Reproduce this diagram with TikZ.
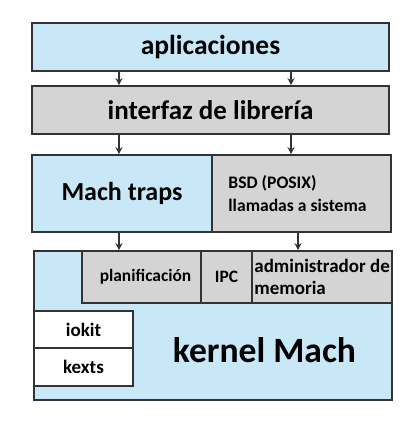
\documentclass[tikz,border=0pt]{standalone}
\usepackage{fontspec}
\setmainfont{Carlito}
\usetikzlibrary{arrows.meta}
\definecolor{azul}{HTML}{C8E8F8}
\definecolor{gris}{HTML}{D4D4D4}
\definecolor{borde}{HTML}{333333}
\newcommand{\fs}[2]{\fontsize{#1}{#2}\selectfont\bfseries}
\tikzset{caja/.style={draw=borde,line width=1.6pt,inner sep=0pt,align=center},
  texto/.style={inner sep=0pt,align=left,anchor=west},
  flecha/.style={draw=borde,line width=1.3pt,-{Stealth[length=7pt,width=7pt]}}}

\begin{document}
\begin{tikzpicture}[x=1pt,y=-1pt]
\useasboundingbox (0,0) rectangle (415,423);
\node[caja,fill=azul,minimum width=357,minimum height=48,font=\fs{27.5}{30}] (apps) at (210.5,47) {aplicaciones};
\node[caja,fill=gris,minimum width=357,minimum height=48,font=\fs{27}{30}] (lib) at (210.5,110) {interfaz de librería};
\node[caja,fill=azul,minimum width=180,minimum height=77,font=\fs{26}{30}] (mach) at (122,193.5) {Mach traps};
\node[caja,fill=gris,minimum width=179,minimum height=77] (bsd) at (301.5,193.5) {};
\node[texto,font=\fs{17.6}{23}] (bsdtxt) at ([xshift=17pt]bsd.west) {BSD (POSIX)\\llamadas a sistema};
\node[caja,fill=azul,minimum width=358,minimum height=149] (kern) at (213,325.5) {};
\node[caja,fill=gris,minimum width=119,minimum height=52,font=\fs{17.4}{20}] (plan) at (141.5,277) {\hspace*{8pt}planificación};
\node[caja,fill=gris,minimum width=51,minimum height=52,font=\fs{17.4}{20}] (ipc) at (226.5,277) {IPC};
\node[caja,fill=gris,minimum width=140,minimum height=52] (mem) at (322,277) {};
\node[texto,font=\fs{19}{22}] (memtxt) at ([xshift=3pt]mem.west) {administrador de\\memoria};
\node[caja,fill=white,minimum width=99,minimum height=37,font=\fs{19}{22}] (iokit) at (83.5,329.5) {iokit};
\node[caja,fill=white,minimum width=99,minimum height=38,font=\fs{19}{22}] (kexts) at (83.5,367) {kexts};
\node[font=\fs{35.6}{40}] (kname) at (264.5,350) {kernel Mach};
% flechas
\coordinate (izq) at (119,0);
\coordinate (der) at (291,0);
\coordinate (der2) at (298,0);
\draw[flecha] (apps.south -| izq) -- (lib.north -| izq);
\draw[flecha] (apps.south -| der) -- (lib.north -| der);
\draw[flecha] (lib.south -| izq) -- (mach.north -| izq);
\draw[flecha] (lib.south -| der) -- (bsd.north -| der);
\draw[flecha] (mach.south -| izq) -- (plan.north -| izq);
\draw[flecha] (bsd.south -| der2) -- (mem.north -| der2);
\end{tikzpicture}
\end{document}
